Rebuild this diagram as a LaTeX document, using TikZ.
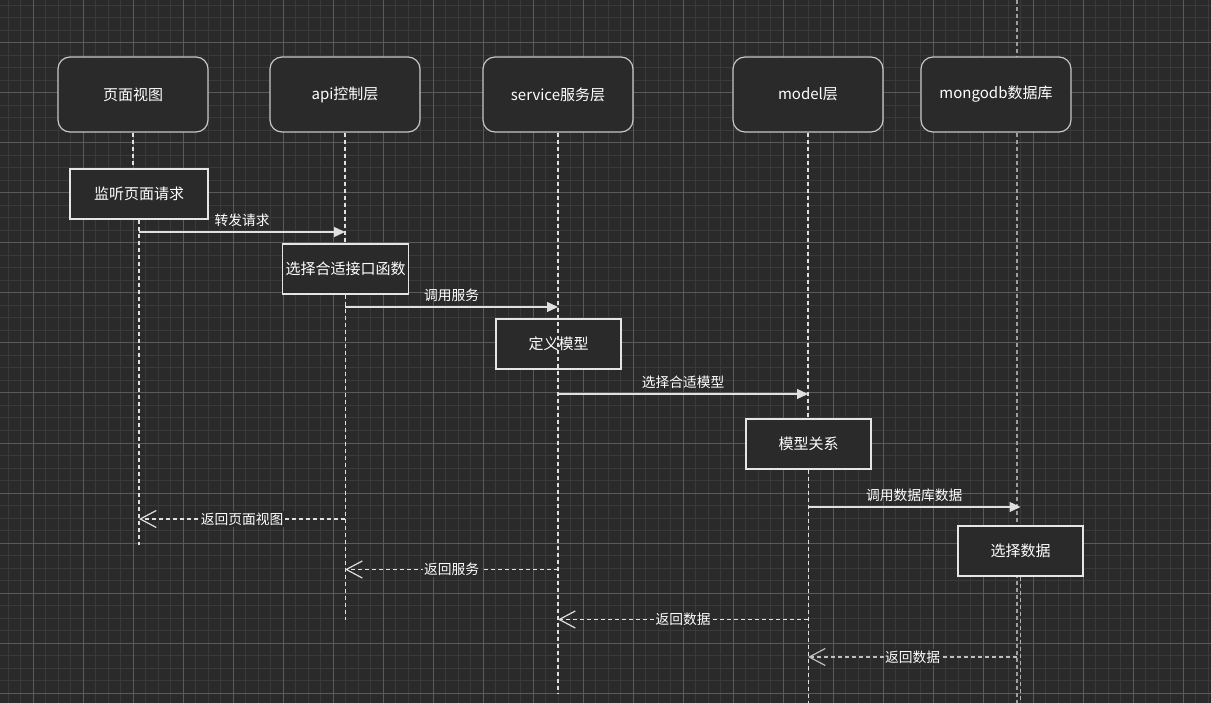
\documentclass[tikz,border=0pt]{standalone}
\usepackage{fontspec}
\setmainfont{Noto Sans CJK SC}
\usetikzlibrary{arrows.meta,positioning}
\definecolor{bgcol}{HTML}{2A2A2A}
\definecolor{minorcol}{HTML}{3A3A3A}
\definecolor{majorcol}{HTML}{5A5A5A}
\tikzset{
	head/.style={draw=white!78!black,fill=bgcol,rounded corners=12pt,minimum width=150pt,minimum height=75pt,line width=1.2pt,text=white,font=\fontsize{15}{18}\selectfont},
	act/.style={draw=white!90!black,fill=bgcol,minimum width=125pt,minimum height=50pt,line width=1.2pt,text=white,font=\fontsize{15}{18}\selectfont},
	life/.style={draw=white!88!black,dash pattern=on 4pt off 3pt,line width=1.2pt},
	call/.style={draw=white!88!black,line width=1.2pt,-{Triangle[length=11pt,width=10pt]}},
	back/.style={draw=white!88!black,line width=1.2pt,dash pattern=on 4pt off 3pt,-{Straight Barb[length=16pt,width=17pt]}},
	lbl/.style={text=white,font=\fontsize{13.75}{16}\selectfont,inner sep=1.5pt},
	minorline/.style={draw=minorcol,line width=1pt},
	majorline/.style={draw=majorcol,line width=1pt}
}
\begin{document}
\begin{tikzpicture}[x=1pt,y=-1pt]
	\useasboundingbox (0,0) rectangle (1211,703);
	\fill[bgcol] (0,0) rectangle (1211,703);
	% grid
	\foreach \i in {0,...,96}
		\draw[minorline] ({8+12.5*\i},0) -- ({8+12.5*\i},703);
	\foreach \j in {0,...,55}
		\draw[minorline] (0,{5.5+12.5*\j}) -- (1211,{5.5+12.5*\j});
	\foreach \i in {0,...,23}
		\draw[majorline] ({33+50*\i},0) -- ({33+50*\i},703);
	\foreach \j in {0,...,13}
		\draw[majorline] (0,{43+50*\j}) -- (1211,{43+50*\j});

	\coordinate (dbline) at (1017,0);
	\coordinate (bottom) at (0,703);
	\coordinate (viewend) at (0,545);
	\coordinate (apiend) at (0,620);
	\coordinate (svcend) at (0,693);

	% lifeline of the database
	\draw[life,draw=white!62!black] (dbline) -- (dbline |- bottom);

	% headers
	\node[head] (view) at (133,94.5) {页面视图};
	\node[head] (api) at (345,94.5) {api控制层};
	\node[head] (svc) at (558,94.5) {service服务层};
	\node[head] (model) at (808,94.5) {model层};
	\node[head] (db) at (996,94.5) {mongodb数据库};

	% activations
	\node[act,minimum width=138pt] (listen) at (139,194) {监听页面请求};
	\node[act] (apifn) at (345.5,269) {选择合适接口函数};
	\node[act] (defmodel) at (558.5,344) {定义模型};
	\node[act] (rel) at (808.5,444) {模型关系};
	\node[act] (pick) at (1020.5,551) {选择数据};

	% lifelines
	\draw[life] (view.south) -- (view.south |- listen.north);
	\draw[life] (listen.south) -- (listen.south |- viewend);
	\draw[life] (api.south) -- (api.south |- apifn.north);
	\draw[life] (apifn.south) -- (apifn.south |- apiend);
	\draw[life] (svc.south) -- (svc.south |- svcend);
	\draw[life] (model.south) -- (model.south |- rel.north);
	\draw[life] (rel.south) -- (rel.south |- bottom);
	\draw[life,draw=white!70!black] (pick.south) -- (pick.south |- bottom);

	% messages
	\coordinate (m1) at (0,232);
	\coordinate (m2) at (0,307);
	\coordinate (m3) at (0,394);
	\coordinate (m4) at (0,507);
	\coordinate (m5) at (0,519);
	\coordinate (m6) at (0,569.5);
	\coordinate (m7) at (0,619.5);
	\coordinate (m8) at (0,657);

	\draw[call] (listen |- m1) -- node[lbl,above=3pt] {转发请求} (api |- m1);
	\draw[call] (api |- m2) -- node[lbl,above=3pt] {调用服务} (svc |- m2);
	\draw[call] (svc |- m3) -- node[lbl,above=3pt] {选择合适模型} (model |- m3);
	\draw[call] (model |- m4) -- node[lbl,above=3pt] {调用数据库数据} (pick |- m4);

	\draw[back] (api |- m5) -- node[lbl,fill=bgcol] {返回页面视图} (listen |- m5);
	\draw[back] (svc |- m6) -- node[lbl,fill=bgcol] {返回服务} (api |- m6);
	\draw[back] (model |- m7) -- node[lbl,fill=bgcol] {返回数据} (svc |- m7);
	\draw[back,draw=white!75!black] (dbline |- m8) -- node[lbl,fill=bgcol] {返回数据} (model |- m8);
\end{tikzpicture}
\end{document}
